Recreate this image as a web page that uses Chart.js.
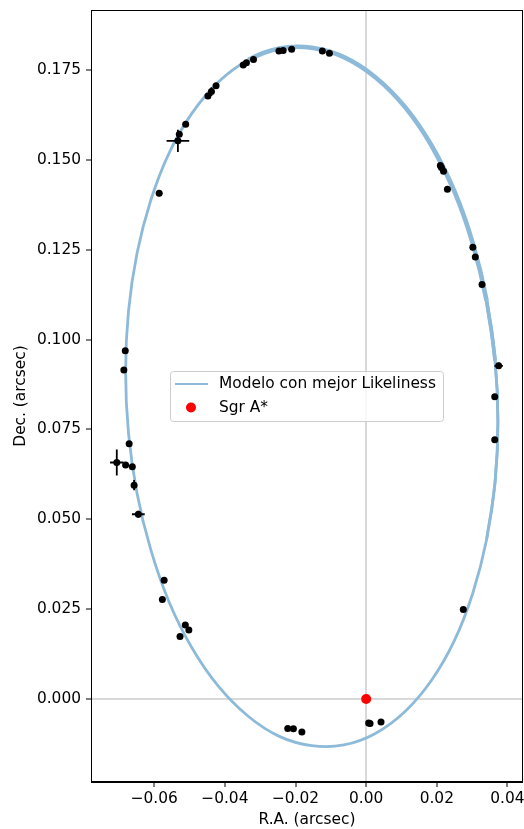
<!DOCTYPE html>
<html>
<head>
<meta charset="utf-8">
<script src="https://cdn.jsdelivr.net/npm/chart.js@4.4.1/dist/chart.umd.min.js"></script>
<style>
  html, body { margin: 0; padding: 0; background: #fff; overflow: hidden; }
  canvas { display: block; }
</style>
</head>
<body>
<canvas id="orbitChart" width="528" height="829"></canvas>
<script>
// Posiciones observadas de la estrella (arcsec)
const obsRA = [-0.0533, -0.0529, -0.0511, -0.0586, -0.0448, -0.0438, -0.0425, -0.0348, -0.0339, -0.0319,
               -0.0247, -0.0235, -0.0211, -0.0124, -0.0104, 0.0210, 0.0213, 0.0219, 0.0230, 0.0302,
               0.0309, 0.0328, 0.0375, 0.0364, 0.0364, 0.0275, 0.0042, 0.0011, 0.0007, -0.0182,
               -0.0206, -0.0222, -0.0502, -0.0512, -0.0527, -0.0577, -0.0572, -0.0645, -0.0657, -0.0662,
               -0.0681, -0.0706, -0.0671, -0.0686, -0.0682];
const obsDec = [0.1553, 0.1571, 0.1599, 0.1407, 0.1678, 0.1690, 0.1706, 0.1764, 0.1770, 0.1779,
                0.1803, 0.1804, 0.1808, 0.1803, 0.1797, 0.1484, 0.1479, 0.1468, 0.1418, 0.1257,
                0.1230, 0.1153, 0.0927, 0.0841, 0.0721, 0.0249, -0.0064, -0.0068, -0.0067, -0.0092,
                -0.0083, -0.0082, 0.0192, 0.0206, 0.0174, 0.0277, 0.0330, 0.0514, 0.0595, 0.0646,
                0.0651, 0.0658, 0.0710, 0.0915, 0.0969];
// Errores (arcsec)
const errRA = [0.0032, 0, 0, 0.0009, 0, 0.0007, 0, 0, 0, 0,
               0, 0, 0, 0, 0, 0, 0, 0, 0, 0,
               0, 0, 0.0012, 0, 0, 0, 0, 0.0006, 0, 0,
               0, 0, 0, 0, 0, 0, 0, 0.0018, 0.0005, 0,
               0, 0.0019, 0, 0, 0];
const errDec = [0.0031, 0, 0, 0.0008, 0, 0.0012, 0, 0, 0, 0,
                0, 0, 0, 0, 0, 0, 0, 0, 0, 0,
                0, 0, 0.0009, 0, 0, 0, 0, 0.0005, 0, 0,
                0, 0, 0, 0, 0, 0, 0, 0.0010, 0.0014, 0,
                0, 0.0036, 0, 0, 0];

// Órbita del modelo con mejor likelihood (cerrada, con solape en el arranque)
const modelRA = [0.0341, 0.0365,
                 0.0373, 0.0365, 0.0341, 0.0302, 0.0250, 0.0185, 0.0110, 0.0026, -0.0063, -0.0154,
                 -0.0246, -0.0334, -0.0418, -0.0493, -0.0558, -0.0610, -0.0649, -0.0673, -0.0681,
                 -0.0673, -0.0649, -0.0610, -0.0558, -0.0493, -0.0418, -0.0334, -0.0246, -0.0154,
                 -0.0063, 0.0026, 0.0110, 0.0185, 0.0250, 0.0302, 0.0341, 0.0365,
                 0.0373, 0.0365, 0.0341];
const modelDec = [0.0444, 0.0604,
                  0.0772, 0.0941, 0.1108, 0.1267, 0.1412, 0.1540, 0.1647, 0.1730, 0.1786, 0.1812,
                  0.1810, 0.1778, 0.1717, 0.1630, 0.1519, 0.1387, 0.1239, 0.1078, 0.0911,
                  0.0741, 0.0574, 0.0416, 0.0270, 0.0142, 0.0035, -0.0048, -0.0104, -0.0130,
                  -0.0128, -0.0096, -0.0035, 0.0052, 0.0163, 0.0295, 0.0444, 0.0604,
                  0.0772, 0.0941, 0.1108];

const sgrRA = [0];
const sgrDec = [0];

const xTicks = [-0.06, -0.04, -0.02, 0.00, 0.02, 0.04];
const yTicks = [0.000, 0.025, 0.050, 0.075, 0.100, 0.125, 0.150, 0.175];

const modelColor = '#8ebad9';
const fontFamily = "'DejaVu Sans', sans-serif";
const fontSize = 15.4;

const toPoints = (xs, ys) => xs.map((x, i) => ({ x: x, y: ys[i] }));
const fmt = (v, d) => (v < 0 ? '\u2212' : '') + Math.abs(v).toFixed(d);

const zeroGrid = {
    color: ctx => (ctx.tick && ctx.tick.value === 0) ? '#d9d9d9' : 'rgba(0,0,0,0)',
    lineWidth: ctx => (ctx.tick && ctx.tick.value === 0) ? 2 : 0,
    tickColor: '#000',
    tickLength: 5,
    tickWidth: 1
};

// tamaño fijo de los ejes, sin relleno extra
const fixAxis = (s, size) => {
    if (s.isHorizontal()) s.height = size; else s.width = size;
    s.paddingTop = s.paddingBottom = s.paddingLeft = s.paddingRight = 0;
};

// la franja superior derecha de la órbita se ve más gruesa
const orbitWidth = ctx => {
    const a = ctx.p0.parsed, b = ctx.p1.parsed;
    if (a.x > -0.036 && b.x > -0.036 && a.y > 0.11 && b.y > 0.11) return 4.6;
    if (a.x > 0 && b.x > 0 && a.y > 0.085 && b.y > 0.085) return 3.6;
    return 2.8;
};

// marco, barras de error y leyenda
const extras = {
    id: 'extras',
    afterDatasetsDraw(chart) {
        const { ctx, chartArea: a, scales: { x, y } } = chart;
        ctx.save();
        ctx.strokeStyle = '#000';
        ctx.lineWidth = 1.8;
        obsRA.forEach((ra, i) => {
            const px = x.getPixelForValue(ra);
            const py = y.getPixelForValue(obsDec[i]);
            ctx.beginPath();
            if (errRA[i] > 0) {
                ctx.moveTo(x.getPixelForValue(ra - errRA[i]), py);
                ctx.lineTo(x.getPixelForValue(ra + errRA[i]), py);
            }
            if (errDec[i] > 0) {
                ctx.moveTo(px, y.getPixelForValue(obsDec[i] - errDec[i]));
                ctx.lineTo(px, y.getPixelForValue(obsDec[i] + errDec[i]));
            }
            ctx.stroke();
        });
        ctx.lineWidth = 1;
        ctx.strokeRect(a.left + 0.5, a.top + 0.5, a.right - a.left - 1, a.bottom - a.top - 1);
        ctx.restore();
    },
    afterDraw(chart) {
        const ctx = chart.ctx;
        const lx = 170.5, ly = 371.5, lw = 273, lh = 50;
        ctx.save();
        ctx.beginPath();
        ctx.roundRect(lx, ly, lw, lh, 3);
        ctx.fillStyle = 'rgba(255,255,255,0.8)';
        ctx.fill();
        ctx.strokeStyle = '#cccccc';
        ctx.lineWidth = 1;
        ctx.stroke();

        ctx.beginPath();
        ctx.moveTo(175, 384);
        ctx.lineTo(208, 384);
        ctx.strokeStyle = modelColor;
        ctx.lineWidth = 2.1;
        ctx.stroke();

        ctx.beginPath();
        ctx.arc(191, 407.5, 5, 0, Math.PI * 2);
        ctx.fillStyle = '#ff0000';
        ctx.fill();

        ctx.fillStyle = '#000';
        ctx.font = fontSize + 'px ' + fontFamily;
        ctx.textBaseline = 'middle';
        ctx.fillText(chart.data.datasets[0].label, 219, 384);
        ctx.fillText(chart.data.datasets[2].label, 219, 408);
        ctx.restore();
    }
};

new Chart(document.getElementById('orbitChart'), {
    type: 'scatter',
    data: {
        datasets: [{
            label: 'Modelo con mejor Likeliness',
            data: toPoints(modelRA, modelDec),
            showLine: true,
            borderColor: modelColor,
            borderWidth: 2.8,
            tension: 0.4,
            pointRadius: 0,
            order: 3,
            segment: { borderWidth: orbitWidth }
        }, {
            label: 'Observaciones',
            data: toPoints(obsRA, obsDec),
            backgroundColor: '#000',
            borderWidth: 0,
            pointRadius: 3.5,
            order: 2
        }, {
            label: 'Sgr A*',
            data: toPoints(sgrRA, sgrDec),
            backgroundColor: '#ff0000',
            borderWidth: 0,
            pointRadius: 5,
            order: 1
        }]
    },
    options: {
        responsive: false,
        animation: false,
        layout: { padding: { top: 10, right: 0, left: 0, bottom: 0 } },
        plugins: { legend: { display: false }, tooltip: { enabled: false } },
        scales: {
            x: {
                type: 'linear',
                min: -0.0779,
                max: 0.0444,
                afterFit: s => fixAxis(s, 47),
                afterBuildTicks: s => { s.ticks = xTicks.map(v => ({ value: v })); },
                grid: zeroGrid,
                border: { display: true, color: '#000', width: 1 },
                ticks: {
                    color: '#000',
                    padding: 3,
                    maxRotation: 0,
                    font: { family: fontFamily, size: fontSize },
                    callback: v => fmt(v, 2)
                },
                title: {
                    display: true,
                    text: 'R.A. (arcsec)',
                    color: '#000',
                    padding: { top: 0, bottom: 0 },
                    font: { family: fontFamily, size: fontSize }
                }
            },
            y: {
                type: 'linear',
                min: -0.0231,
                max: 0.1917,
                afterFit: s => fixAxis(s, 91),
                afterBuildTicks: s => { s.ticks = yTicks.map(v => ({ value: v })); },
                grid: zeroGrid,
                border: { display: true, color: '#000', width: 1 },
                ticks: {
                    color: '#000',
                    padding: 5,
                    font: { family: fontFamily, size: fontSize },
                    callback: v => fmt(v, 3)
                },
                title: {
                    display: true,
                    text: 'Dec. (arcsec)',
                    color: '#000',
                    padding: { top: 12, bottom: 0 },
                    font: { family: fontFamily, size: fontSize }
                }
            }
        }
    },
    plugins: [extras]
});
</script>
</body>
</html>
